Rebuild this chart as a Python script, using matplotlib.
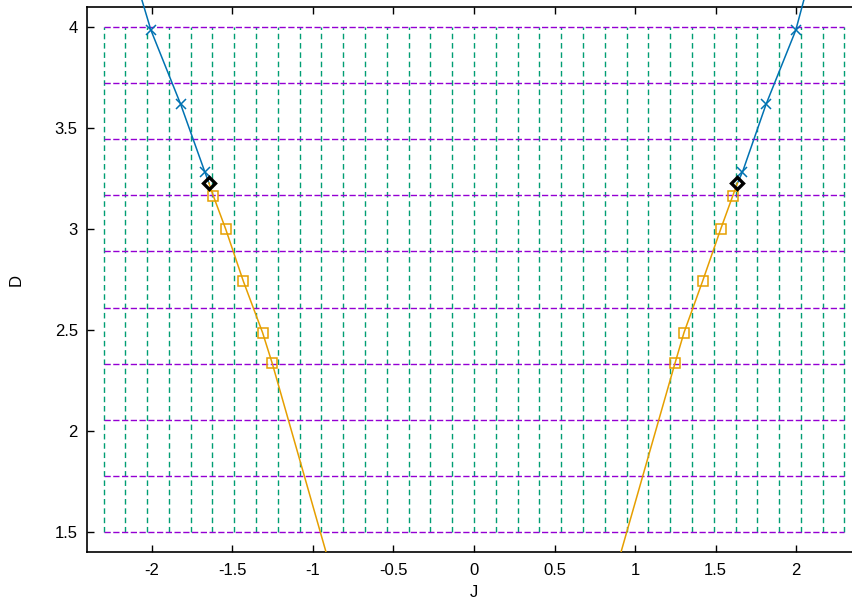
import numpy as np
import matplotlib
matplotlib.use('Agg')
import matplotlib.pyplot as plt

# ---- data -----------------------------------------------------------------
# background mesh
mesh_J = [-2.3, -2.165, -2.029, -1.894, -1.759, -1.624, -1.488, -1.353, -1.218,
          -1.082, -0.947, -0.812, -0.676, -0.541, -0.406, -0.271, -0.135, 0.0,
          0.135, 0.271, 0.406, 0.541, 0.676, 0.812, 0.947, 1.082, 1.218, 1.353,
          1.488, 1.624, 1.759, 1.894, 2.029, 2.165, 2.3]
mesh_D = [1.5, 1.778, 2.056, 2.333, 2.611, 2.889, 3.167, 3.444, 3.722, 4.0]

# upper branch (blue), curve + crosses
blue_D_curve = [4.134, 3.985, 3.619, 3.282, 3.228]
blue_J_left = [-2.062, -2.006, -1.822, -1.671, -1.646]
blue_J_right = [2.048, 1.998, 1.814, 1.667, 1.636]
blue_pts_D = [3.985, 3.619, 3.282]
blue_pts_J_left = [-2.006, -1.822, -1.671]
blue_pts_J_right = [1.998, 1.814, 1.667]

# lower branch (orange), curve + squares
orange_D_curve = [3.228, 3.165, 3.0, 2.743, 2.487, 2.335, 1.4]
orange_J_left = [-1.646, -1.619, -1.542, -1.433, -1.313, -1.253, -0.919]
orange_J_right = [1.636, 1.607, 1.532, 1.420, 1.304, 1.248, 0.913]
orange_pts_D = [3.165, 3.0, 2.743, 2.487, 2.335]
orange_pts_J_left = [-1.619, -1.542, -1.433, -1.313, -1.253]
orange_pts_J_right = [1.607, 1.532, 1.420, 1.304, 1.248]

# meeting points (black diamonds)
meet_J = [-1.646, 1.636]
meet_D = [3.228, 3.228]

PURPLE = '#9400d3'
GREEN = '#009e73'
BLUE = '#0072b2'
ORANGE = '#e69f00'

plt.rcParams.update({
    "font.family": ["Liberation Sans", "DejaVu Sans"],
    "font.size": 12,
})

fig = plt.figure(figsize=(8.53, 6.08), dpi=100)
ax = fig.add_axes([87.5 / 853, 56 / 608, 773 / 853, 545 / 608])

# ---- mesh ----
for j in mesh_J:
    ax.plot([j, j], [mesh_D[0], mesh_D[-1]], color=GREEN, lw=1.0,
            ls=(0, (4, 2.7)), zorder=1)
for d in mesh_D:
    ax.plot([mesh_J[0], mesh_J[-1]], [d, d], color=PURPLE, lw=1.0,
            ls=(0, (4.5, 1.8)), zorder=1)

# ---- curves ----
for jj in (blue_J_left, blue_J_right):
    ax.plot(jj, blue_D_curve, color=BLUE, lw=1.1, zorder=3, clip_on=False)
for jj in (blue_pts_J_left, blue_pts_J_right):
    ax.plot(jj, blue_pts_D, ls='none', marker='x', ms=7, mew=1.1,
            color=BLUE, zorder=4)

for jj in (orange_J_left, orange_J_right):
    ax.plot(jj, orange_D_curve, color=ORANGE, lw=1.1, zorder=3)
for jj in (orange_pts_J_left, orange_pts_J_right):
    ax.plot(jj, orange_pts_D, ls='none', marker='s', ms=7, mew=1.1,
            mfc='none', mec=ORANGE, zorder=4)

ax.plot(meet_J, meet_D, ls='none', marker='D', ms=6.5, mew=2.4,
        mfc='none', mec='black', zorder=5)

# ---- axes ----
ax.set_xlim(-2.4, 2.4)
ax.set_ylim(1.4, 4.1)
ax.set_xticks([-2, -1.5, -1, -0.5, 0, 0.5, 1, 1.5, 2])
ax.set_xticklabels(['-2', '-1.5', '-1', '-0.5', '0', '0.5', '1', '1.5', '2'])
ax.set_yticks([1.5, 2, 2.5, 3, 3.5, 4])
ax.set_yticklabels(['1.5', '2', '2.5', '3', '3.5', '4'])
ax.tick_params(direction='in', length=5, width=1, top=True, right=True)
ax.tick_params(axis='x', pad=8)
ax.tick_params(axis='y', pad=7)
for s in ax.spines.values():
    s.set_linewidth(1.2)
ax.set_xlabel("J", labelpad=5)
ax.set_ylabel("D", labelpad=22)

fig.savefig("out.png", dpi=100)
